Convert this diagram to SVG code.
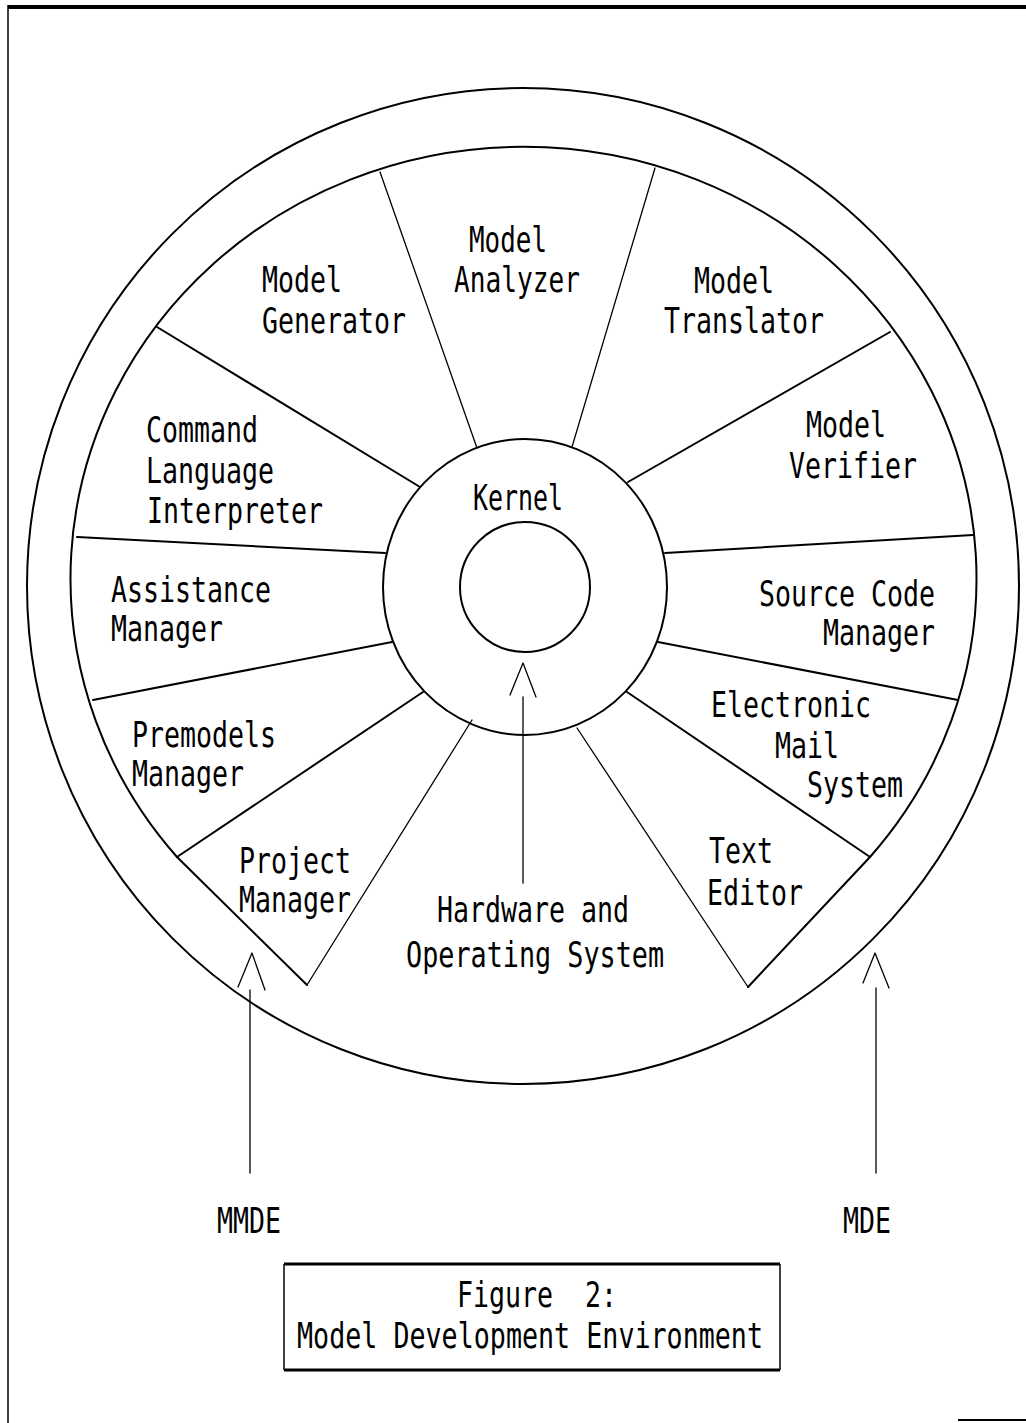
<svg xmlns="http://www.w3.org/2000/svg" width="1026" height="1423" viewBox="0 0 1026 1423">
<style>
  .ln{fill:none;stroke:#000;stroke-width:2;stroke-linecap:round;stroke-linejoin:round}
  .th{fill:none;stroke:#000;stroke-width:1.3;stroke-linecap:round;stroke-linejoin:round}
  .t{font-family:"DejaVu Sans Mono","Liberation Mono",monospace;font-size:36px;fill:#000}
</style>
<rect width="1026" height="1423" fill="#fff"/>
<g id="frame">
  <line x1="8" y1="7" x2="1026" y2="7" stroke="#000" stroke-width="4"/>
  <line x1="8" y1="5" x2="8" y2="1423" stroke="#000" stroke-width="1.5"/>
  <line x1="958" y1="1420" x2="1026" y2="1420" stroke="#000" stroke-width="2"/>
</g>
<g id="wheel">
  <ellipse class="ln" cx="523" cy="586" rx="496" ry="498"/>
  <path class="ln" d="M307,985 L177,857 A453,432 0 1,1 870,857 L748,987"/>
  <ellipse class="ln" cx="525" cy="587" rx="142" ry="148"/>
  <circle class="ln" cx="525" cy="587" r="65"/>
</g>
<g id="connectors">
  <line class="th" x1="477" y1="448" x2="380" y2="172"/>
  <line class="th" x1="572" y1="447" x2="655" y2="168"/>
  <line class="ln" x1="420" y1="487" x2="157" y2="327"/>
  <line class="ln" x1="628" y1="482" x2="890" y2="332"/>
  <line class="ln" x1="385" y1="553" x2="77" y2="537"/>
  <line class="ln" x1="665" y1="553" x2="973" y2="535"/>
  <line class="ln" x1="392" y1="642" x2="93" y2="700"/>
  <line class="ln" x1="658" y1="642" x2="958" y2="700"/>
  <line class="ln" x1="423" y1="692" x2="177" y2="857"/>
  <line class="ln" x1="627" y1="692" x2="870" y2="857"/>
  <line class="th" x1="472" y1="720" x2="307" y2="985"/>
  <line class="th" x1="577" y1="728" x2="748" y2="987"/>
  <g id="arrow-hw">
    <line class="th" x1="523" y1="697" x2="523" y2="883"/>
    <polyline class="th" points="510,695 523,663 536,697"/>
  </g>
  <g id="arrow-mmde">
    <line class="th" x1="250" y1="990" x2="250" y2="1173"/>
    <polyline class="th" points="238,987 252,953 265,990"/>
  </g>
  <g id="arrow-mde">
    <line class="th" x1="876" y1="988" x2="876" y2="1173"/>
    <polyline class="th" points="863,983 875,953 889,988"/>
  </g>
</g>
<g id="model-analyzer">
  <text class="t"><tspan x="469" y="252" textLength="78" lengthAdjust="spacingAndGlyphs">Model</tspan><tspan x="454" y="292" textLength="126" lengthAdjust="spacingAndGlyphs">Analyzer</tspan></text>
</g>
<g id="model-generator">
  <text class="t"><tspan x="262" y="292" textLength="80" lengthAdjust="spacingAndGlyphs">Model</tspan><tspan x="262" y="333" textLength="144" lengthAdjust="spacingAndGlyphs">Generator</tspan></text>
</g>
<g id="model-translator">
  <text class="t"><tspan x="694" y="293" textLength="80" lengthAdjust="spacingAndGlyphs">Model</tspan><tspan x="664" y="333" textLength="160" lengthAdjust="spacingAndGlyphs">Translator</tspan></text>
</g>
<g id="model-verifier">
  <text class="t"><tspan x="806" y="437" textLength="80" lengthAdjust="spacingAndGlyphs">Model</tspan><tspan x="789" y="478" textLength="128" lengthAdjust="spacingAndGlyphs">Verifier</tspan></text>
</g>
<g id="command-language-interpreter">
  <text class="t"><tspan x="146" y="442" textLength="112" lengthAdjust="spacingAndGlyphs">Command</tspan><tspan x="146" y="483" textLength="128" lengthAdjust="spacingAndGlyphs">Language</tspan><tspan x="147" y="523" textLength="176" lengthAdjust="spacingAndGlyphs">Interpreter</tspan></text>
</g>
<g id="kernel">
  <text class="t" x="473" y="510" textLength="90" lengthAdjust="spacingAndGlyphs">Kernel</text>
</g>
<g id="assistance-manager">
  <text class="t"><tspan x="111" y="602" textLength="160" lengthAdjust="spacingAndGlyphs">Assistance</tspan><tspan x="111" y="641" textLength="112" lengthAdjust="spacingAndGlyphs">Manager</tspan></text>
</g>
<g id="source-code-manager">
  <text class="t"><tspan x="759" y="606" textLength="176" lengthAdjust="spacingAndGlyphs">Source Code</tspan><tspan x="823" y="645" textLength="112" lengthAdjust="spacingAndGlyphs">Manager</tspan></text>
</g>
<g id="premodels-manager">
  <text class="t"><tspan x="132" y="747" textLength="144" lengthAdjust="spacingAndGlyphs">Premodels</tspan><tspan x="132" y="786" textLength="112" lengthAdjust="spacingAndGlyphs">Manager</tspan></text>
</g>
<g id="electronic-mail-system">
  <text class="t"><tspan x="711" y="717" textLength="160" lengthAdjust="spacingAndGlyphs">Electronic</tspan><tspan x="775" y="758" textLength="64" lengthAdjust="spacingAndGlyphs">Mail</tspan><tspan x="807" y="797" textLength="96" lengthAdjust="spacingAndGlyphs">System</tspan></text>
</g>
<g id="project-manager">
  <text class="t"><tspan x="239" y="873" textLength="112" lengthAdjust="spacingAndGlyphs">Project</tspan><tspan x="239" y="912" textLength="112" lengthAdjust="spacingAndGlyphs">Manager</tspan></text>
</g>
<g id="text-editor">
  <text class="t"><tspan x="709" y="863" textLength="64" lengthAdjust="spacingAndGlyphs">Text</tspan><tspan x="707" y="905" textLength="96" lengthAdjust="spacingAndGlyphs">Editor</tspan></text>
</g>
<g id="hardware-os">
  <text class="t"><tspan x="437" y="922" textLength="192" lengthAdjust="spacingAndGlyphs">Hardware and</tspan><tspan x="406" y="967" textLength="258" lengthAdjust="spacingAndGlyphs">Operating System</tspan></text>
</g>
<g id="mmde">
  <text class="t" x="217" y="1233" textLength="64" lengthAdjust="spacingAndGlyphs">MMDE</text>
</g>
<g id="mde">
  <text class="t" x="843" y="1233" textLength="48" lengthAdjust="spacingAndGlyphs">MDE</text>
</g>
<g id="caption">
  <line x1="284" y1="1264" x2="780" y2="1264" stroke="#000" stroke-width="3"/>
  <line x1="284" y1="1370" x2="780" y2="1370" stroke="#000" stroke-width="3"/>
  <line x1="284" y1="1264" x2="284" y2="1370" stroke="#000" stroke-width="1.5"/>
  <line x1="780" y1="1264" x2="780" y2="1370" stroke="#000" stroke-width="1.5"/>
  <text class="t" xml:space="preserve"><tspan x="457" y="1307" textLength="160" lengthAdjust="spacingAndGlyphs">Figure  2:</tspan><tspan x="297" y="1348" textLength="466" lengthAdjust="spacingAndGlyphs">Model Development Environment</tspan></text>
</g>
</svg>
